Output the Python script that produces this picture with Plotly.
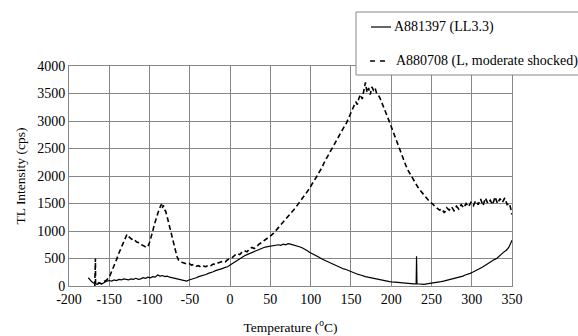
import plotly.graph_objects as go

# A880708 (L, moderate shocked) - dashed
t_a880708 = [-168, -167.2, -167, -166, -163, -160, -157, -154, -150, -147, -144, -141, -138, -135, -132, -130, -128, -126, -124, -122, -120, -118, -116, -114, -112, -110, -108, -106, -104, -102, -100, -98, -96, -94, -92, -90, -88, -86, -85, -84, -83, -82, -80, -78, -76, -74, -72, -70, -68, -66, -64, -62, -60, -57, -54, -51, -48, -45, -42, -39, -36, -33, -30, -27, -24, -21, -18, -15, -12, -9, -6, -3, 0, 3, 6, 9, 12, 15, 18, 21, 24, 27, 30, 33, 36, 39, 42, 45, 48, 51, 54, 57, 60, 63, 66, 69, 72, 75, 78, 81, 84, 87, 90, 93, 96, 99, 102, 105, 108, 111, 114, 117, 120, 123, 126, 129, 132, 135, 138, 141, 144, 147, 150, 152, 154, 156, 158, 160, 162, 164, 166, 168, 170, 172, 174, 176, 178, 180, 182, 184, 186, 188, 190, 192, 194, 196, 198, 200, 203, 206, 209, 212, 215, 218, 221, 224, 227, 230, 233, 236, 239, 242, 245, 248, 251, 254, 257, 260, 263, 266, 269, 272, 275, 278, 281, 284, 287, 290, 293, 296, 299, 302, 305, 308, 311, 314, 317, 320, 323, 326, 329, 332, 335, 338, 341, 344, 347, 349, 350]
v_a880708 = [0, 500, 30, 20, 60, 40, 80, 100, 160, 260, 370, 480, 600, 700, 800, 880, 940, 900, 880, 850, 860, 820, 800, 790, 760, 750, 740, 720, 700, 720, 790, 880, 1000, 1120, 1230, 1330, 1400, 1460, 1490, 1420, 1470, 1400, 1360, 1250, 1130, 1000, 880, 760, 640, 540, 470, 440, 430, 420, 400, 410, 380, 390, 360, 370, 340, 360, 350, 380, 370, 400, 390, 420, 430, 450, 440, 480, 500, 520, 560, 590, 570, 620, 640, 620, 670, 700, 680, 730, 760, 790, 820, 850, 880, 920, 960, 1010, 1050, 1110, 1160, 1200, 1250, 1310, 1370, 1420, 1480, 1540, 1590, 1650, 1720, 1780, 1860, 1920, 2000, 2080, 2150, 2250, 2330, 2420, 2500, 2560, 2650, 2720, 2800, 2880, 2950, 3050, 3120, 3200, 3280, 3350, 3300, 3420, 3480, 3400, 3550, 3700, 3520, 3600, 3480, 3620, 3560, 3600, 3500, 3470, 3420, 3350, 3280, 3200, 3150, 3050, 2980, 2900, 2780, 2650, 2520, 2420, 2300, 2200, 2100, 2020, 1950, 1870, 1800, 1740, 1680, 1620, 1580, 1530, 1500, 1450, 1420, 1380, 1400, 1330, 1420, 1380, 1440, 1370, 1450, 1400, 1480, 1420, 1500, 1440, 1520, 1460, 1550, 1480, 1580, 1460, 1600, 1500, 1560, 1480, 1620, 1500, 1590, 1520, 1600, 1480, 1500, 1380, 1300]

# A881397 (LL3.3) - solid
t_a881397 = [-176, -174, -172, -170, -168, -165, -162, -159, -156, -153, -150, -147, -144, -141, -138, -135, -132, -129, -126, -123, -120, -117, -114, -111, -108, -105, -102, -99, -96, -93, -90, -87, -84, -81, -78, -75, -72, -69, -66, -63, -60, -57, -54, -51, -48, -45, -42, -39, -36, -33, -30, -27, -24, -21, -18, -15, -12, -9, -6, -3, 0, 3, 6, 9, 12, 15, 18, 21, 24, 27, 30, 33, 36, 39, 42, 45, 48, 51, 54, 57, 60, 63, 66, 69, 72, 75, 78, 81, 84, 87, 90, 93, 96, 99, 102, 105, 108, 111, 114, 117, 120, 123, 126, 129, 132, 135, 138, 141, 144, 147, 150, 153, 156, 159, 162, 165, 168, 171, 174, 177, 180, 183, 186, 189, 192, 195, 198, 201, 204, 207, 210, 213, 216, 219, 222, 225, 228, 231, 231.5, 232, 235, 238, 241, 244, 247, 250, 253, 256, 259, 262, 265, 268, 271, 274, 277, 280, 283, 286, 289, 292, 295, 298, 301, 304, 307, 310, 313, 316, 319, 322, 325, 328, 331, 334, 337, 340, 343, 346, 348, 350]
v_a881397 = [150, 110, 80, 60, 40, 30, 50, 40, 70, 90, 100, 90, 110, 100, 120, 110, 130, 120, 110, 130, 120, 140, 120, 130, 150, 140, 160, 150, 170, 160, 200, 180, 190, 170, 180, 160, 150, 140, 130, 110, 100, 100, 90, 110, 120, 130, 150, 170, 180, 200, 210, 230, 240, 260, 280, 290, 310, 320, 340, 350, 380, 410, 440, 470, 500, 520, 550, 570, 590, 610, 630, 650, 670, 690, 700, 710, 720, 730, 740, 745, 750, 740, 760, 750, 770, 760, 750, 740, 730, 710, 690, 670, 640, 610, 590, 560, 540, 520, 490, 470, 450, 420, 400, 380, 360, 340, 320, 310, 300, 280, 270, 250, 230, 210, 200, 180, 170, 160, 150, 140, 130, 120, 110, 100, 95, 90, 80, 75, 70, 65, 60, 55, 50, 50, 45, 40, 40, 40, 540, 40, 35, 40, 30, 40, 45, 50, 55, 60, 70, 80, 90, 100, 110, 120, 130, 140, 150, 160, 180, 200, 210, 230, 250, 270, 300, 320, 340, 370, 400, 420, 450, 480, 500, 550, 580, 620, 650, 700, 760, 830]

x_ticks = [-200, -150, -100, -50, 0, 50, 100, 150, 200, 250, 300, 350]
x_labels = ["-200", "-150", "-100", "-50", "0", "50", "100", "150", "200", "250", "300", "350"]
y_ticks = [0, 500, 1000, 1500, 2000, 2500, 3000, 3500, 4000]
y_labels = ["0", "500", "1000", "1500", "2000", "2500", "3000", "3500", "4000"]

series_names = ["A881397 (LL3.3)", "A880708 (L, moderate shocked)"]

FONT = "Liberation Serif"
W, H = 578, 336
ML, MR, MT, MB = 69, 66, 66, 50
PW, PH = W - ML - MR, H - MT - MB


def px_x(p):  # pixel -> paper x (legend decoration only)
    return (p - ML) / PW


def px_y(p):  # pixel -> paper y (legend decoration only)
    return (H - MB - p) / PH


fig = go.Figure()
fig.add_trace(go.Scatter(x=t_a881397, y=v_a881397, mode="lines", name=series_names[0],
                         line=dict(color="black", width=1.2), showlegend=False))
fig.add_trace(go.Scatter(x=t_a880708, y=v_a880708, mode="lines", name=series_names[1],
                         line=dict(color="black", width=1.6, dash="5px,3px"), showlegend=False))

axis_common = dict(showgrid=True, gridcolor="#878787", gridwidth=1, showline=True,
                   linecolor="#878787", linewidth=1, mirror=True, zeroline=False,
                   ticks="", automargin=False,
                   tickfont=dict(family=FONT, size=14, color="black"))

# legend drawn as a box with sample lines and text
shapes = [
    dict(type="rect", xref="paper", yref="paper", x0=px_x(356), x1=px_x(590),
         y0=px_y(75), y1=px_y(12), fillcolor="white", line=dict(color="#878787", width=1), layer="above"),
    dict(type="line", xref="paper", yref="paper", x0=px_x(371), x1=px_x(391),
         y0=px_y(27), y1=px_y(27), line=dict(color="black", width=1.2), layer="above"),
    dict(type="line", xref="paper", yref="paper", x0=px_x(370), x1=px_x(386),
         y0=px_y(61), y1=px_y(61), line=dict(color="black", width=1.6, dash="5px,5px"), layer="above"),
]
annotations = [
    dict(xref="paper", yref="paper", x=px_x(392), y=px_y(27), text=series_names[0], showarrow=False,
         xanchor="left", yanchor="middle", font=dict(family=FONT, size=14, color="black")),
    dict(xref="paper", yref="paper", x=px_x(394), y=px_y(61), text=series_names[1], showarrow=False,
         xanchor="left", yanchor="middle", font=dict(family=FONT, size=14, color="black")),
]

fig.update_layout(
    width=W, height=H,
    margin=dict(l=ML, r=MR, t=MT, b=MB),
    paper_bgcolor="white", plot_bgcolor="white",
    font=dict(family=FONT, size=14, color="black"),
    xaxis=dict(range=[-200, 350], tickvals=x_ticks, ticktext=x_labels, **axis_common,
               title=dict(text="Temperature (<sup>o</sup>C)", font=dict(family=FONT, size=13.5), standoff=16)),
    yaxis=dict(range=[0, 4000], tickvals=y_ticks, ticktext=y_labels, **axis_common,
               title=dict(text="TL Intensity (cps)", font=dict(family=FONT, size=13.5), standoff=8)),
    shapes=shapes,
    annotations=annotations,
    showlegend=False,
)

fig.write_html("out.html", config={"displayModeBar": False},
               post_script="document.body.style.margin='0';document.body.style.overflow='hidden';")
